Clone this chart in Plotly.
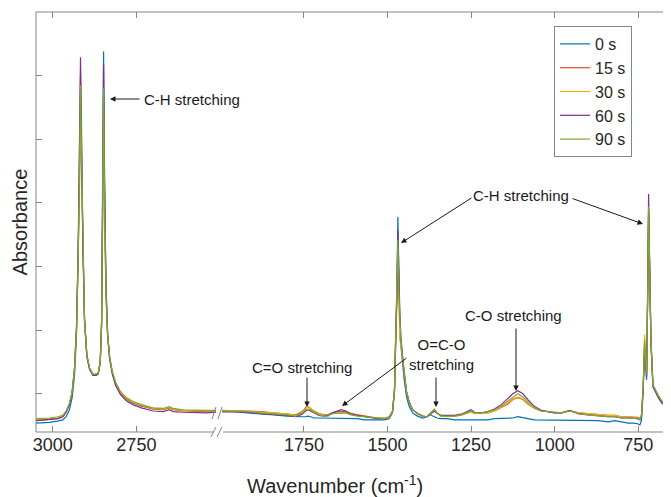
import plotly.graph_objects as go

# ---------------- data ----------------
WN_LEFT = [3050, 3010, 2985, 2970, 2960, 2950, 2942, 2935, 2929, 2924,
           2920, 2917, 2914, 2910, 2905, 2898, 2890, 2880, 2870, 2864,
           2858, 2854, 2851, 2848, 2845, 2841, 2836, 2830, 2822, 2812,
           2798, 2780, 2760, 2735, 2700, 2670, 2652, 2640, 2610, 2570,
           2540, 2512]

WN_RIGHT = [1995, 1960, 1920, 1880, 1840, 1800, 1775, 1755, 1745, 1738,
            1730, 1720, 1705, 1690, 1678, 1665, 1650, 1638, 1625, 1610,
            1590, 1570, 1550, 1530, 1510, 1495, 1485, 1479, 1475, 1472,
            1469, 1466, 1463, 1460, 1456, 1450, 1443, 1435, 1425, 1410,
            1395, 1382, 1372, 1366, 1360, 1352, 1340, 1320, 1300, 1280,
            1262, 1250, 1240, 1220, 1200, 1180, 1160, 1140, 1125, 1110,
            1095, 1080, 1060, 1040, 1020, 1000, 980, 965, 955, 945,
            930, 900, 870, 840, 820, 800, 780, 765, 752, 745,
            740, 735, 731, 728, 725, 722, 719, 716, 712, 706,
            698, 690, 680, 670, 660, 655]

ABS_0S_LEFT = [0.054, 0.055, 0.057, 0.059, 0.064, 0.075, 0.094, 0.128, 0.190, 0.295,
               0.425, 0.546, 0.454, 0.315, 0.212, 0.158, 0.139, 0.130, 0.131, 0.133,
               0.152, 0.215, 0.404, 0.638, 0.440, 0.275, 0.196, 0.158, 0.134, 0.116,
               0.102, 0.092, 0.086, 0.081, 0.077, 0.076, 0.079, 0.076, 0.074, 0.073,
               0.073, 0.073]
ABS_15S_LEFT = [0.058, 0.060, 0.061, 0.064, 0.071, 0.083, 0.102, 0.138, 0.202, 0.318,
                0.464, 0.601, 0.497, 0.330, 0.218, 0.161, 0.140, 0.130, 0.130, 0.132,
                0.149, 0.206, 0.367, 0.569, 0.398, 0.260, 0.192, 0.157, 0.134, 0.116,
                0.102, 0.092, 0.086, 0.081, 0.076, 0.075, 0.078, 0.075, 0.073, 0.072,
                0.072, 0.072]
ABS_30S_LEFT = [0.059, 0.061, 0.062, 0.065, 0.072, 0.084, 0.103, 0.138, 0.200, 0.305,
                0.437, 0.562, 0.467, 0.320, 0.214, 0.160, 0.140, 0.131, 0.131, 0.133,
                0.150, 0.205, 0.346, 0.530, 0.374, 0.255, 0.190, 0.157, 0.135, 0.117,
                0.103, 0.093, 0.087, 0.082, 0.077, 0.076, 0.079, 0.076, 0.074, 0.073,
                0.073, 0.073]
ABS_60S_LEFT = [0.058, 0.060, 0.061, 0.064, 0.071, 0.083, 0.102, 0.140, 0.205, 0.325,
                0.484, 0.629, 0.519, 0.340, 0.220, 0.160, 0.139, 0.129, 0.129, 0.131,
                0.149, 0.210, 0.394, 0.618, 0.428, 0.270, 0.193, 0.155, 0.131, 0.113,
                0.099, 0.089, 0.083, 0.078, 0.073, 0.072, 0.075, 0.072, 0.071, 0.070,
                0.070, 0.071]
ABS_90S_LEFT = [0.061, 0.062, 0.064, 0.066, 0.073, 0.085, 0.103, 0.138, 0.200, 0.310,
                0.452, 0.585, 0.483, 0.326, 0.216, 0.161, 0.141, 0.131, 0.131, 0.133,
                0.150, 0.208, 0.373, 0.580, 0.405, 0.263, 0.193, 0.158, 0.135, 0.118,
                0.104, 0.094, 0.088, 0.083, 0.078, 0.077, 0.080, 0.077, 0.075, 0.074,
                0.074, 0.074]

ABS_0S_RIGHT = [0.072, 0.072, 0.070, 0.069, 0.067, 0.065, 0.064, 0.064, 0.064, 0.065,
                0.064, 0.062, 0.062, 0.062, 0.062, 0.062, 0.062, 0.062, 0.061, 0.061,
                0.061, 0.059, 0.059, 0.059, 0.059, 0.061, 0.070, 0.103, 0.200, 0.248,
                0.378, 0.263, 0.200, 0.177, 0.150, 0.122, 0.095, 0.080, 0.070, 0.065,
                0.062, 0.064, 0.067, 0.065, 0.064, 0.062, 0.061, 0.061, 0.059, 0.059,
                0.059, 0.059, 0.059, 0.059, 0.059, 0.061, 0.061, 0.062, 0.062, 0.064,
                0.062, 0.061, 0.059, 0.059, 0.058, 0.058, 0.058, 0.058, 0.058, 0.058,
                0.058, 0.058, 0.058, 0.056, 0.058, 0.056, 0.054, 0.054, 0.053, 0.051,
                0.059, 0.106, 0.177, 0.145, 0.122, 0.248, 0.381, 0.302, 0.177, 0.111,
                0.102, 0.094, 0.086, 0.081, 0.076, 0.075]
ABS_15S_RIGHT = [0.074, 0.074, 0.073, 0.072, 0.070, 0.069, 0.067, 0.072, 0.078, 0.080,
                 0.077, 0.073, 0.069, 0.067, 0.067, 0.070, 0.072, 0.072, 0.072, 0.069,
                 0.067, 0.065, 0.064, 0.062, 0.062, 0.064, 0.073, 0.106, 0.200, 0.248,
                 0.334, 0.263, 0.193, 0.180, 0.161, 0.130, 0.103, 0.087, 0.075, 0.069,
                 0.065, 0.064, 0.069, 0.072, 0.075, 0.070, 0.065, 0.065, 0.065, 0.067,
                 0.070, 0.072, 0.070, 0.070, 0.070, 0.073, 0.078, 0.084, 0.091, 0.094,
                 0.091, 0.084, 0.077, 0.073, 0.072, 0.070, 0.070, 0.072, 0.073, 0.072,
                 0.070, 0.069, 0.067, 0.066, 0.066, 0.064, 0.064, 0.063, 0.063, 0.061,
                 0.067, 0.114, 0.180, 0.153, 0.130, 0.248, 0.386, 0.302, 0.185, 0.114,
                 0.105, 0.097, 0.089, 0.084, 0.080, 0.078]
ABS_30S_RIGHT = [0.074, 0.073, 0.073, 0.071, 0.070, 0.068, 0.066, 0.071, 0.077, 0.080,
                 0.077, 0.073, 0.068, 0.066, 0.066, 0.069, 0.070, 0.069, 0.070, 0.068,
                 0.066, 0.065, 0.063, 0.062, 0.062, 0.063, 0.072, 0.106, 0.200, 0.248,
                 0.326, 0.263, 0.185, 0.177, 0.161, 0.130, 0.103, 0.087, 0.075, 0.069,
                 0.065, 0.064, 0.068, 0.072, 0.075, 0.070, 0.065, 0.065, 0.065, 0.066,
                 0.069, 0.071, 0.069, 0.069, 0.070, 0.073, 0.079, 0.086, 0.092, 0.095,
                 0.092, 0.085, 0.077, 0.073, 0.072, 0.070, 0.070, 0.072, 0.073, 0.072,
                 0.070, 0.069, 0.067, 0.066, 0.066, 0.064, 0.064, 0.063, 0.062, 0.061,
                 0.068, 0.117, 0.193, 0.155, 0.130, 0.248, 0.389, 0.302, 0.185, 0.114,
                 0.105, 0.097, 0.089, 0.084, 0.080, 0.078]
ABS_60S_RIGHT = [0.072, 0.072, 0.071, 0.069, 0.068, 0.066, 0.064, 0.068, 0.073, 0.075,
                 0.073, 0.070, 0.066, 0.065, 0.066, 0.070, 0.073, 0.075, 0.073, 0.069,
                 0.066, 0.064, 0.062, 0.061, 0.061, 0.062, 0.072, 0.108, 0.205, 0.255,
                 0.357, 0.275, 0.227, 0.190, 0.163, 0.131, 0.103, 0.087, 0.075, 0.069,
                 0.065, 0.064, 0.068, 0.071, 0.073, 0.070, 0.066, 0.066, 0.066, 0.068,
                 0.072, 0.075, 0.071, 0.070, 0.072, 0.076, 0.083, 0.092, 0.100, 0.105,
                 0.100, 0.091, 0.080, 0.074, 0.072, 0.070, 0.070, 0.072, 0.074, 0.072,
                 0.069, 0.067, 0.065, 0.064, 0.064, 0.062, 0.062, 0.061, 0.061, 0.059,
                 0.066, 0.112, 0.174, 0.150, 0.127, 0.255, 0.414, 0.310, 0.185, 0.112,
                 0.103, 0.095, 0.087, 0.082, 0.078, 0.076]
ABS_90S_RIGHT = [0.073, 0.073, 0.072, 0.070, 0.069, 0.067, 0.065, 0.070, 0.075, 0.076,
                 0.075, 0.072, 0.067, 0.065, 0.065, 0.069, 0.070, 0.070, 0.070, 0.067,
                 0.065, 0.064, 0.062, 0.061, 0.061, 0.062, 0.072, 0.106, 0.200, 0.248,
                 0.342, 0.263, 0.216, 0.185, 0.161, 0.130, 0.103, 0.087, 0.075, 0.069,
                 0.065, 0.064, 0.069, 0.073, 0.076, 0.070, 0.065, 0.065, 0.065, 0.067,
                 0.070, 0.073, 0.070, 0.070, 0.072, 0.075, 0.081, 0.089, 0.095, 0.100,
                 0.095, 0.087, 0.078, 0.073, 0.072, 0.070, 0.070, 0.072, 0.073, 0.072,
                 0.069, 0.067, 0.065, 0.064, 0.064, 0.062, 0.062, 0.061, 0.061, 0.059,
                 0.067, 0.114, 0.185, 0.153, 0.130, 0.248, 0.394, 0.302, 0.185, 0.114,
                 0.105, 0.097, 0.089, 0.084, 0.080, 0.078]

SERIES_NAMES = ["0 s", "15 s", "30 s", "60 s", "90 s"]
LEFT_VALUES = [ABS_0S_LEFT, ABS_15S_LEFT, ABS_30S_LEFT, ABS_60S_LEFT, ABS_90S_LEFT]
RIGHT_VALUES = [ABS_0S_RIGHT, ABS_15S_RIGHT, ABS_30S_RIGHT, ABS_60S_RIGHT, ABS_90S_RIGHT]
COLORS = ["#0072BD", "#D95319", "#EDB120", "#7E2F8E", "#77AC30"]

X_TICKS_LEFT = [3000, 2750]
X_TICKS_RIGHT = [1750, 1500, 1250, 1000, 750]
Y_TICKS = [0.1, 0.2, 0.3, 0.4, 0.5, 0.6]

# ---------------- layout geometry ----------------
# The page body has an 8 px margin, so the figure is made 8 px smaller and
# all reference pixel positions are shifted by that amount.
PAGE_OFF = 8
W, H = 671 - PAGE_OFF, 497 - PAGE_OFF
PLOT_L, PLOT_R, PLOT_T, PLOT_B = 36, 670, 12, 432   # in reference pixels
ML = PLOT_L - PAGE_OFF
MT = PLOT_T - PAGE_OFF
MR = 671 - PLOT_R
MB = 497 - PLOT_B
PW, PH = PLOT_R - PLOT_L, PLOT_B - PLOT_T
LEFT_END_PX, RIGHT_START_PX = 216, 222


def fx(px):
    return (px - PLOT_L) / PW


def fy(py):
    return (PLOT_B - py) / PH


FONT = "Arial, Liberation Sans, Helvetica, sans-serif"
GRAY = "#858585"

fig = go.Figure()

for name, vals, col in zip(SERIES_NAMES, LEFT_VALUES, COLORS):
    fig.add_trace(go.Scatter(x=WN_LEFT, y=vals, mode="lines", name=name,
                             legendgroup=name, showlegend=False,
                             line=dict(color=col, width=1.2),
                             xaxis="x", yaxis="y"))
for name, vals, col in zip(SERIES_NAMES, RIGHT_VALUES, COLORS):
    fig.add_trace(go.Scatter(x=WN_RIGHT, y=vals, mode="lines", name=name,
                             legendgroup=name, showlegend=True,
                             line=dict(color=col, width=1.2),
                             xaxis="x2", yaxis="y2"))

xcommon = dict(showline=False, ticks="inside", ticklen=6, tickcolor=GRAY,
               mirror="ticks", showgrid=False, zeroline=False,
               tickfont=dict(family=FONT, size=18, color="#262626"))
ycommon = dict(range=[0.04, 0.70], tickvals=Y_TICKS, showticklabels=False,
               ticks="inside", ticklen=6, tickcolor=GRAY, mirror=False,
               showline=False, showgrid=False, zeroline=False)

fig.update_layout(
    width=W, height=H,
    margin=dict(l=ML, r=MR, t=MT, b=MB),
    paper_bgcolor="white", plot_bgcolor="white",
    font=dict(family=FONT, color="#262626"),
    xaxis=dict(domain=[0, fx(LEFT_END_PX)], range=[3050, 2512],
               tickvals=X_TICKS_LEFT, anchor="y", **xcommon),
    xaxis2=dict(domain=[fx(RIGHT_START_PX), 1], range=[1995, 655],
                tickvals=X_TICKS_RIGHT, anchor="y2", **xcommon),
    yaxis=dict(anchor="x", side="left",
               title=dict(text="Absorbance", standoff=2,
                          font=dict(family=FONT, size=20, color="#262626")),
               **ycommon),
    yaxis2=dict(anchor="x2", side="right", matches="y", **ycommon),
    legend=dict(x=fx(554), y=fy(26), xanchor="left", yanchor="top",
                bgcolor="white", bordercolor=GRAY, borderwidth=1,
                font=dict(family=FONT, size=16, color="#262626"),
                tracegroupgap=0, itemwidth=30,
                entrywidth=62, entrywidthmode="pixels"),
    showlegend=True,
)

# frame lines (axes box with break)
frame = [
    (PLOT_L, PLOT_T, PLOT_R, PLOT_T),      # top
    (PLOT_L, PLOT_T, PLOT_L, PLOT_B),      # left
    (PLOT_R, PLOT_T, PLOT_R, PLOT_B),      # right
    (PLOT_L, PLOT_B, 214, PLOT_B),         # bottom left piece
    (223, PLOT_B, PLOT_R, PLOT_B),         # bottom right piece
]
shapes = []
for x0, y0, x1, y1 in frame:
    shapes.append(dict(type="line", xref="paper", yref="paper",
                       x0=fx(x0), y0=fy(y0), x1=fx(x1), y1=fy(y1),
                       line=dict(color=GRAY, width=1)))
# break marks on axis and on data
for x0, y0, x1, y1 in [(211, 437, 216, 427), (217, 437, 222, 427),
                       (212, 419, 216, 407), (218, 419, 222, 407)]:
    shapes.append(dict(type="line", xref="paper", yref="paper",
                       x0=fx(x0), y0=fy(y0), x1=fx(x1), y1=fy(y1),
                       line=dict(color=GRAY, width=1)))
fig.update_layout(shapes=shapes)

ann_font = dict(family=FONT, size=15, color="#1a1a1a")
anns = []


def text(px, py, t, font=ann_font):
    anns.append(dict(xref="paper", yref="paper", x=fx(px), y=fy(py), text=t,
                     showarrow=False, xanchor="center", yanchor="middle",
                     font=font))


def arrow(tx, ty, hx, hy):
    anns.append(dict(xref="paper", yref="paper", x=fx(hx), y=fy(hy), text="",
                     showarrow=True, ax=tx - hx, ay=ty - hy, axref="pixel",
                     ayref="pixel", arrowhead=2, arrowsize=1.1, arrowwidth=1,
                     arrowcolor="#1a1a1a", standoff=0, startstandoff=0))


text(192, 99, "C-H stretching")
arrow(141, 99, 110, 99)

text(521, 195, "C-H stretching")
arrow(473, 197, 401, 243)
arrow(571, 198, 643, 224)

text(302, 367, "C=O stretching")
arrow(307, 376, 307, 407)

text(441, 354, "O=C-O<br>stretching")
arrow(408, 357, 342, 406)
arrow(436, 376, 436, 407)

text(513, 315, "C-O stretching")
arrow(516, 327, 516, 391)

text(335, 484, "Wavenumber (cm<sup>-1</sup>)",
     font=dict(family=FONT, size=20, color="#262626"))

fig.update_layout(annotations=anns)

fig.write_html("out.html")
